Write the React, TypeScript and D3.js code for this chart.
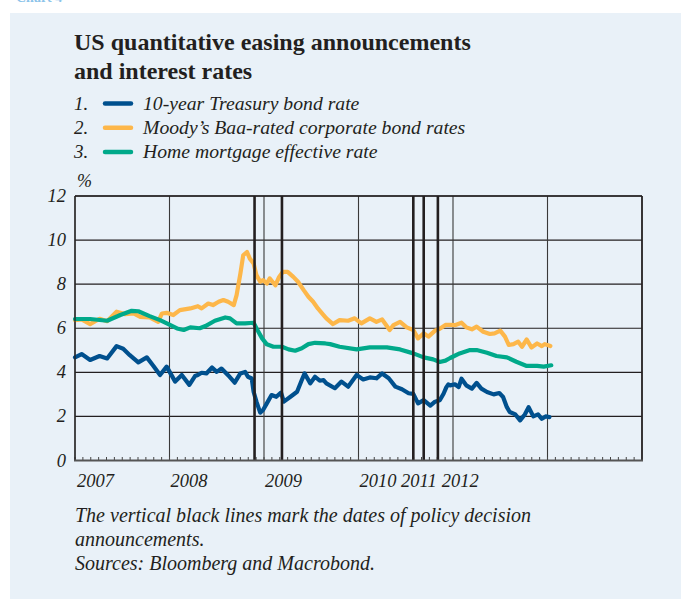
import React from "react";
import * as d3 from "d3";

// Time as decimal years, values in per cent
const treasury: [number, number][] = [
  [2007.0, 4.68], [2007.07, 4.83], [2007.16, 4.56], [2007.26, 4.74], [2007.34, 4.63],
  [2007.44, 5.19], [2007.51, 5.07], [2007.58, 4.78], [2007.67, 4.45], [2007.76, 4.68],
  [2007.83, 4.29], [2007.9, 3.88], [2007.97, 4.26], [2008.06, 3.58], [2008.13, 3.88],
  [2008.21, 3.43], [2008.27, 3.83], [2008.3, 3.88], [2008.34, 3.98], [2008.39, 3.95],
  [2008.45, 4.22], [2008.5, 4.02], [2008.55, 4.17], [2008.62, 3.87], [2008.69, 3.53],
  [2008.75, 3.95], [2008.8, 4.02], [2008.83, 3.8], [2008.87, 3.72], [2008.89, 3.12],
  [2008.92, 2.67], [2008.96, 2.17], [2008.99, 2.29], [2009.03, 2.59], [2009.08, 2.97],
  [2009.13, 2.89], [2009.18, 3.08], [2009.21, 2.67], [2009.28, 2.89], [2009.35, 3.12],
  [2009.4, 3.65], [2009.43, 3.95], [2009.49, 3.5], [2009.54, 3.8], [2009.59, 3.62],
  [2009.63, 3.65], [2009.66, 3.5], [2009.75, 3.28], [2009.82, 3.58], [2009.89, 3.35],
  [2009.98, 3.88], [2010.05, 3.68], [2010.12, 3.77], [2010.19, 3.73], [2010.25, 3.95],
  [2010.32, 3.73], [2010.39, 3.35], [2010.46, 3.23], [2010.53, 3.05], [2010.58, 3.02],
  [2010.63, 2.59], [2010.69, 2.74], [2010.76, 2.49], [2010.81, 2.67], [2010.86, 2.73],
  [2010.9, 3.03], [2010.93, 3.33], [2010.95, 3.45], [2010.97, 3.41], [2011.02, 3.46],
  [2011.06, 3.33], [2011.09, 3.71], [2011.14, 3.41], [2011.2, 3.26], [2011.25, 3.52],
  [2011.3, 3.26], [2011.36, 3.11], [2011.43, 3.0], [2011.49, 3.06], [2011.53, 2.88],
  [2011.57, 2.42], [2011.6, 2.2], [2011.66, 2.09], [2011.71, 1.82], [2011.76, 2.09],
  [2011.8, 2.42], [2011.85, 2.0], [2011.9, 2.09], [2011.94, 1.89], [2011.98, 2.0],
  [2012.02, 1.97],
];

const baa: [number, number][] = [
  [2007.0, 6.37], [2007.07, 6.4], [2007.16, 6.19], [2007.26, 6.43], [2007.34, 6.32],
  [2007.44, 6.75], [2007.53, 6.64], [2007.62, 6.67], [2007.69, 6.52], [2007.79, 6.49],
  [2007.88, 6.29], [2007.92, 6.67], [2007.97, 6.7], [2008.04, 6.6], [2008.11, 6.82],
  [2008.22, 6.9], [2008.3, 7.0], [2008.34, 6.9], [2008.41, 7.12], [2008.46, 7.05],
  [2008.52, 7.2], [2008.57, 7.28], [2008.62, 7.2], [2008.68, 7.05], [2008.71, 7.5],
  [2008.75, 8.48], [2008.78, 9.31], [2008.82, 9.46], [2008.85, 9.16], [2008.89, 8.94],
  [2008.92, 8.41], [2008.96, 8.11], [2008.99, 8.18], [2009.03, 8.03], [2009.06, 8.26],
  [2009.12, 7.95], [2009.16, 8.33], [2009.2, 8.56], [2009.25, 8.56], [2009.31, 8.33],
  [2009.36, 8.11], [2009.42, 7.73], [2009.47, 7.43], [2009.52, 7.2], [2009.57, 6.9],
  [2009.63, 6.6], [2009.66, 6.45], [2009.73, 6.19], [2009.8, 6.37], [2009.89, 6.34],
  [2009.96, 6.45], [2010.03, 6.22], [2010.12, 6.45], [2010.19, 6.29], [2010.25, 6.4],
  [2010.33, 5.92], [2010.37, 6.14], [2010.44, 6.29], [2010.51, 6.04], [2010.58, 5.92],
  [2010.63, 5.54], [2010.69, 5.77], [2010.74, 5.62], [2010.81, 5.89], [2010.86, 5.98],
  [2010.92, 6.15], [2010.97, 6.15], [2011.02, 6.14], [2011.09, 6.25], [2011.14, 6.04],
  [2011.2, 5.95], [2011.25, 6.07], [2011.32, 5.84], [2011.39, 5.74], [2011.44, 5.77],
  [2011.5, 5.89], [2011.55, 5.62], [2011.59, 5.24], [2011.64, 5.28], [2011.69, 5.39],
  [2011.73, 5.16], [2011.78, 5.49], [2011.83, 5.13], [2011.89, 5.31], [2011.94, 5.19],
  [2011.97, 5.28], [2012.03, 5.19],
];

const mortgage: [number, number][] = [
  [2007.0, 6.42], [2007.16, 6.42], [2007.34, 6.34], [2007.48, 6.6], [2007.6, 6.79],
  [2007.67, 6.77], [2007.79, 6.55], [2007.9, 6.37], [2008.01, 6.14], [2008.08, 5.99],
  [2008.15, 5.92], [2008.22, 6.04], [2008.32, 6.0], [2008.38, 6.1], [2008.48, 6.34],
  [2008.59, 6.49], [2008.64, 6.45], [2008.71, 6.22], [2008.8, 6.22], [2008.89, 6.25],
  [2008.92, 6.0], [2008.98, 5.54], [2009.03, 5.27], [2009.1, 5.16], [2009.19, 5.16],
  [2009.26, 5.04], [2009.33, 4.98], [2009.4, 5.09], [2009.47, 5.28], [2009.54, 5.34],
  [2009.65, 5.31], [2009.7, 5.28], [2009.8, 5.16], [2009.98, 5.04], [2010.12, 5.13],
  [2010.3, 5.13], [2010.44, 5.04], [2010.58, 4.86], [2010.69, 4.68], [2010.79, 4.59],
  [2010.86, 4.47], [2010.92, 4.53], [2010.97, 4.65], [2011.07, 4.86], [2011.18, 5.01],
  [2011.25, 5.01], [2011.36, 4.89], [2011.46, 4.74], [2011.57, 4.68], [2011.67, 4.48],
  [2011.78, 4.29], [2011.89, 4.29], [2011.96, 4.26], [2012.04, 4.32],
];

// Policy decision announcement dates (decimal years)
const announcements: number[] = [2008.9, 2009.19, 2010.58, 2010.69, 2010.84];

const yTicks: number[] = [0, 2, 4, 6, 8, 10, 12];
const yearGrid: number[] = [2007, 2008, 2009, 2010, 2011, 2012, 2013];
const xLabels: string[] = ["2007", "2008", "2009", "2010", "2011", "2012"];
// where each year label sits on the time axis (as printed in the original)
const xLabelAt: number[] = [2007.02, 2008.01, 2009.01, 2010.01, 2010.45, 2010.88];

const seriesNames: string[] = [
  "10-year Treasury bond rate",
  "Moody\u2019s Baa-rated corporate bond rates",
  "Home mortgage effective rate",
];
const seriesColors: string[] = ["#00508e", "#fdb74a", "#00a98a"];

const title: string[] = ["US quantitative easing announcements", "and interest rates"];
const notes: string[] = [
  "The vertical black lines mark the dates of policy decision",
  "announcements.",
  "Sources: Bloomberg and Macrobond.",
];

const W = 681;
const H = 599;
const INK = "#231f20";
const SERIF = "'Liberation Serif', 'Times New Roman', serif";

export default function App() {
  const left = 75, right = 642, top = 196, bottom = 460.5;
  const x = d3.scaleLinear().domain([2007, 2013]).range([left, right]);
  const y = d3.scaleLinear().domain([0, 12]).range([bottom, top]);
  const line = d3
    .line<[number, number]>()
    .x((d) => x(d[0]))
    .y((d) => y(d[1]))
    .curve(d3.curveLinear);

  const months = d3.range(0, 72).map((i) => 2007 + i / 12);
  const series = [treasury, baa, mortgage];
  const drawOrder = [1, 2, 0];

  return (
    <svg
      width={W}
      height={H}
      style={{ position: "absolute", left: 0, top: 0, display: "block" }}
      fontFamily={SERIF}
    >
      <rect x={0} y={0} width={W} height={H} fill="#ffffff" />
      <text x={16} y={1.5} fontSize={14} fontWeight="bold" fill="#8cc4ea">
        Chart 4
      </text>
      <rect x={10} y={13} width={W - 10} height={H - 13} fill="#e9f1f8" />

      {/* title */}
      {title.map((t, i) => (
        <text key={t} x={74} y={50 + i * 28.5} fontSize={24} fontWeight="bold" fill={INK}>
          {t}
        </text>
      ))}

      {/* legend */}
      {seriesNames.map((n, i) => (
        <g key={n} transform={`translate(0, ${103.5 + i * 24.2})`}>
          <text x={74} y={6} fontSize={19} fontStyle="italic" fill={INK}>
            {`${i + 1}.`}
          </text>
          <line x1={105} x2={131} y1={0} y2={0} stroke={seriesColors[i]} strokeWidth={4.5} strokeLinecap="round" />
          <text x={143} y={6} fontSize={19.7} fontStyle="italic" fill={INK}>
            {n}
          </text>
        </g>
      ))}

      <text x={77} y={187} fontSize={18} fontStyle="italic" fill={INK}>%</text>

      {/* horizontal gridlines */}
      {yTicks.map((v) => (
        <g key={v}>
          {v > 0 && (
            <line x1={left} x2={right} y1={y(v)} y2={y(v)} stroke={INK} strokeWidth={1.1} />
          )}
          <text x={66} y={y(v) + 6} fontSize={18.5} fontStyle="italic" textAnchor="end" fill={INK}>
            {v}
          </text>
        </g>
      ))}

      {/* vertical year gridlines */}
      {yearGrid.map((t) => (
        <line key={t} x1={x(t)} x2={x(t)} y1={top} y2={bottom} stroke="#3a3a3a" strokeWidth={1.1} />
      ))}

      {/* monthly minor ticks */}
      {months.map((m) => (
        <line key={m} x1={x(m)} x2={x(m)} y1={bottom} y2={bottom - 3.5} stroke="#444" strokeWidth={1} />
      ))}

      {/* series */}
      {drawOrder.map((i) => (
        <path
          key={i}
          d={line(series[i]) || ""}
          fill="none"
          stroke={seriesColors[i]}
          strokeWidth={4.2}
          strokeLinejoin="round"
          strokeLinecap="round"
        />
      ))}

      {/* announcement lines */}
      {announcements.map((t) => (
        <line key={t} x1={x(t)} x2={x(t)} y1={top} y2={bottom} stroke={INK} strokeWidth={2.6} />
      ))}

      {/* frame */}
      <line x1={left} x2={right} y1={top} y2={top} stroke={INK} strokeWidth={1.5} />
      <line x1={right} x2={right} y1={top} y2={bottom} stroke={INK} strokeWidth={1.6} />
      <line x1={left} x2={left} y1={top} y2={bottom} stroke={INK} strokeWidth={1.3} />
      <line x1={left - 1} x2={right + 1} y1={bottom} y2={bottom} stroke="#555" strokeWidth={2} />

      {/* x labels */}
      {xLabels.map((l, i) => (
        <text key={l} x={x(xLabelAt[i])} y={487} fontSize={18.5} fontStyle="italic" fill={INK}>
          {l}
        </text>
      ))}

      {/* notes */}
      {notes.map((n, i) => (
        <text key={n} x={75} y={522 + i * 24} fontSize={20} fontStyle="italic" fill={INK}>
          {n}
        </text>
      ))}
    </svg>
  );
}
